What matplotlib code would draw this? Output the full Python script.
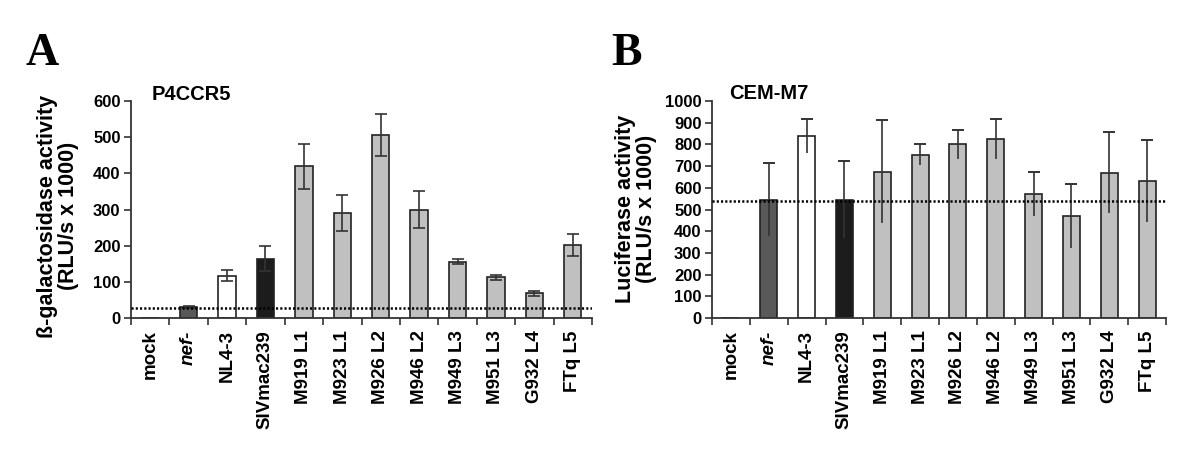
import matplotlib
matplotlib.use("Agg")
import matplotlib.pyplot as plt
import numpy as np

plt.rcParams['font.family'] = ['Liberation Sans', 'DejaVu Sans']

categories = ["mock", "nef-", "NL4-3", "SIVmac239", "M919 L1", "M923 L1",
              "M926 L2", "M946 L2", "M949 L3", "M951 L3", "G932 L4", "FTq L5"]

a_values = [0, 30, 117, 164, 419, 290, 506, 300, 156, 112, 69, 202]
a_errors = [0, 3, 16, 35, 61, 50, 57, 50, 7, 8, 7, 30]
a_baseline = 29

b_values = [2, 546, 839, 546, 675, 753, 801, 825, 572, 469, 669, 632]
b_errors = [0, 170, 78, 176, 236, 48, 67, 91, 103, 148, 187, 188]
b_baseline = 541

bar_colors = ["#ffffff", "#595959", "#ffffff", "#1c1c1c"] + ["#c0c0c0"] * 8

W, H = 1200, 462
fig = plt.figure(figsize=(W / 100, H / 100), dpi=100)


def axrect(x0, x1, y0, y1):
    return [x0 / W, 1 - y1 / H, (x1 - x0) / W, (y1 - y0) / H]


def panel(ax, values, errors, baseline, ymax, ystep, lower_caps):
    x = np.arange(len(categories))
    ax.bar(x, values, width=0.45, color=bar_colors, edgecolor="#222222",
           linewidth=1.2, zorder=2)
    if lower_caps:
        ax.errorbar(x[1:], values[1:], yerr=errors[1:], fmt="none",
                    ecolor="#333333", elinewidth=1.2, capsize=4.5,
                    capthick=1.2, zorder=3)
    else:
        ax.errorbar(x[1:], values[1:], yerr=[errors[1:], errors[1:]],
                    fmt="none", ecolor="#333333", elinewidth=1.2,
                    capsize=0, zorder=3)
        ax.errorbar(x[1:], np.array(values[1:]) + np.array(errors[1:]),
                    yerr=[[0] * (len(x) - 1), [0] * (len(x) - 1)],
                    fmt="none", ecolor="#333333", elinewidth=1.2,
                    capsize=4.5, capthick=1.2, zorder=3)
    ax.axhline(baseline, color="black", linestyle=(0, (0.85, 0.85)),
               linewidth=1.8, zorder=4)
    ax.set_xlim(-0.5, len(categories) - 0.5)
    ax.set_ylim(0, ymax)
    ax.set_yticks(np.arange(0, ymax + 1, ystep))
    ax.set_xticks(x)
    ax.set_xticklabels(categories, rotation=90, fontsize=13.5,
                       fontweight="bold")
    for lab in ax.get_xticklabels():
        if lab.get_text() == "nef-":
            lab.set_fontstyle("italic")
    ax.set_xticks(np.arange(-0.5, len(categories)), minor=True)
    ax.tick_params(axis="x", which="major", length=0, pad=9)
    ax.tick_params(axis="x", which="minor", length=5, width=1.2,
                   direction="out", color="#333333")
    ax.tick_params(axis="y", length=5, width=1.2, direction="out",
                   color="#333333", labelsize=12, pad=2.5)
    for lab in ax.get_yticklabels():
        lab.set_fontweight("bold")
    for s in ["top", "right"]:
        ax.spines[s].set_visible(False)
    for s in ["left", "bottom"]:
        ax.spines[s].set_linewidth(1.3)
        ax.spines[s].set_color("#333333")


axA = fig.add_axes(axrect(131, 592, 101, 318))
panel(axA, a_values, a_errors, a_baseline, 600, 100, True)

axB = fig.add_axes(axrect(712, 1166, 101, 318))
panel(axB, b_values, b_errors, b_baseline, 1000, 100, False)

fig.text(26 / W, 1 - 65 / H, "A", fontsize=33, fontweight="bold",
         family="Liberation Serif", va="baseline", ha="left")
fig.text(611 / W, 1 - 65 / H, "B", fontsize=33, fontweight="bold",
         family="Liberation Serif", va="baseline", ha="left")

fig.text(152 / W, 1 - 100 / H, "P4CCR5", fontsize=14.5, fontweight="bold",
         va="baseline", ha="left")
fig.text(729 / W, 1 - 99 / H, "CEM-M7", fontsize=14.5, fontweight="bold",
         va="baseline", ha="left")

fig.text(58 / W, 1 - 216 / H, "ß-galactosidase activity\n(RLU/s x 1000)",
         rotation=90, fontsize=15.5, fontweight="bold", ha="center",
         va="center", multialignment="center", linespacing=0.95)
fig.text(636 / W, 1 - 209 / H, "Luciferase activity\n(RLU/s x 1000)",
         rotation=90, fontsize=15.5, fontweight="bold", ha="center",
         va="center", multialignment="center", linespacing=0.95)

fig.savefig("out.png", dpi=100)
